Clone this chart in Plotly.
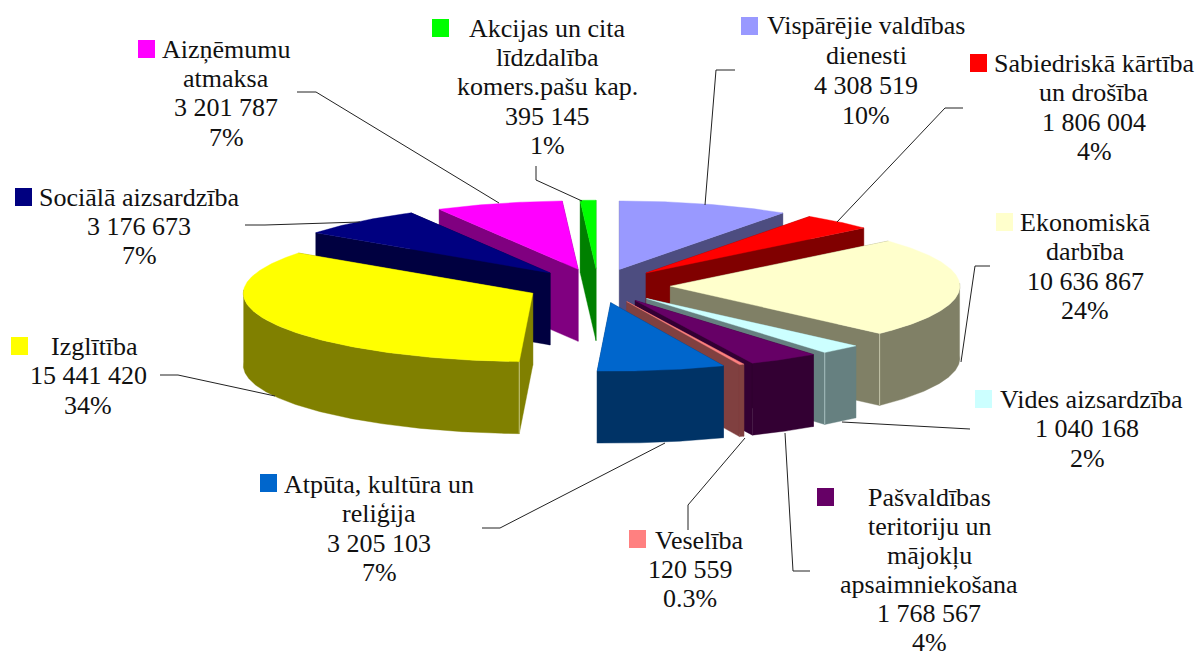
import math
import plotly.graph_objects as go

# ---------- data ----------
categories = ["Vispārējie valdības dienesti", "Sabiedriskā kārtība un drošība", "Ekonomiskā darbība",
              "Vides aizsardzība", "Pašvaldības teritoriju un mājokļu apsaimniekošana", "Veselība",
              "Atpūta, kultūra un reliģija", "Izglītība", "Sociālā aizsardzība", "Aizņēmumu atmaksa",
              "Akcijas un cita līdzdalība komers.pašu kap."]
values = [4308519, 1806004, 10636867, 1040168, 1768567, 120559, 3205103, 15441420, 3176673, 3201787, 395145]
percent_labels = ["10%", "4%", "24%", "2%", "4%", "0.3%", "7%", "34%", "7%", "7%", "1%"]
name_lines = [["Vispārējie valdības", "dienesti"], ["Sabiedriskā kārtība", "un drošība"], ["Ekonomiskā", "darbība"],
              ["Vides aizsardzība"], ["Pašvaldības", "teritoriju un", "mājokļu", "apsaimniekošana"], ["Veselība"],
              ["Atpūta, kultūra un", "reliģija"], ["Izglītība"], ["Sociālā aizsardzība"], ["Aizņēmumu", "atmaksa"],
              ["Akcijas un cita", "līdzdalība", "komers.pašu kap."]]

# ---------- style ----------
top_colors = ["#9999FF", "#FF0000", "#FFFFCC", "#CCFFFF", "#660066", "#FF8080", "#0066CC", "#FFFF00", "#000080", "#FF00FF", "#00FF00"]
side_colors = ["#4D4D80", "#800000", "#808066", "#668080", "#330033", "#804040", "#003366", "#808000", "#000040", "#800080", "#008000"]
seam_colors = {2: "#C4C4A8", 3: "#A8C0C0", 7: "#C8C880"}
FONT = "Liberation Serif"
FSIZE = 26

# ---------- pie projection ----------
CX, CY, RX, RY, DEPTH, EXPLODE = 598.0, 285.8, 289.5, 68.5, 72.0, 0.25
total = sum(values)


def proj(theta_deg, r, ox=0.0, oy=0.0, drop=0.0):
    t = math.radians(theta_deg)
    return CX + ox + RX * r * math.sin(t), CY + oy - RY * r * math.cos(t) + drop


fig = go.Figure()


def poly(pts, color):
    xs = [p[0] for p in pts] + [pts[0][0]]
    ys = [p[1] for p in pts] + [pts[0][1]]
    fig.add_trace(go.Scatter(x=xs, y=ys, mode="lines", fill="toself", fillcolor=color,
                             line=dict(color=color, width=0.4), hoverinfo="skip", showlegend=False))


slices = []
cum = 0.0
for i, v in enumerate(values):
    a0 = cum / total * 360
    cum += v
    a1 = cum / total * 360
    slices.append((i, a0, a1, (a0 + a1) / 2))

for i, a0, a1, m in sorted(slices, key=lambda s: math.cos(math.radians(s[3])), reverse=True):
    ox = RX * EXPLODE * math.sin(math.radians(m))
    oy = -RY * EXPLODE * math.cos(math.radians(m))
    n = max(4, int((a1 - a0) * 2))
    arc = [a0 + (a1 - a0) * k / n for k in range(n + 1)]
    apex = proj(0, 0, ox, oy)
    apex_d = proj(0, 0, ox, oy, DEPTH)
    # radial walls, the rearward one first
    for a in sorted([a0, a1], key=lambda q: -math.cos(math.radians(q))):
        c = proj(a, 1, ox, oy)
        cd = proj(a, 1, ox, oy, DEPTH)
        poly([apex, c, cd, apex_d], side_colors[i])
    # outer wall
    front = [a for a in arc if math.cos(math.radians(a)) < 0.05]
    if len(front) >= 2:
        poly([proj(a, 1, ox, oy) for a in front] + [proj(a, 1, ox, oy, DEPTH) for a in reversed(front)], side_colors[i])
    # corner seam
    if i in seam_colors:
        seam_angle = a0 if i == 7 else a1
        p, q = proj(seam_angle, 1, ox, oy), proj(seam_angle, 1, ox, oy, DEPTH)
        fig.add_trace(go.Scatter(x=[p[0], q[0]], y=[p[1], q[1]], mode="lines", line=dict(color=seam_colors[i], width=1),
                                 hoverinfo="skip", showlegend=False))
    # top face
    poly([apex] + [proj(a, 1, ox, oy) for a in arc], top_colors[i])

# ---------- labels (layout only) ----------
# category index: (text centre x, first line y, line step, key-square left, key-square top, first-line centre override)
label_layout = {
    0: (866, 25, 30, 741, 17, None),
    1: (1094, 63, 29.6, 970, 54, None),
    2: (1085, 222, 29.6, 996, 213, None),
    3: (1087, 399, 29.6, 975, 390, 1091),
    4: (929, 497, 29, 817, 488, None),
    5: (690, 540, 29.4, 629, 530, 699),
    6: (379, 484, 29.6, 260, 474, None),
    7: (88, 346, 29.6, 11, 337, 94),
    8: (139, 197, 29.4, 15, 188, None),
    9: (226, 49, 29.4, 138, 40, None),
    10: (547, 28, 29.4, 432, 19, None),
}
leaders = {
    0: ([735, 716, 705], [70, 70, 205]),
    1: ([963, 945, 837], [108, 108, 222]),
    2: ([990, 975, 961], [266, 266, 362]),
    3: ([970, 952, 842], [429, 428, 422]),
    4: ([810, 793, 785], [571, 571, 433]),
    5: ([688, 688, 745], [530, 505, 438]),
    6: ([482, 500, 665], [528, 528, 443]),
    7: ([160, 178, 275], [375, 375, 396]),
    8: ([245, 265, 360], [225, 225, 222]),
    9: ([297, 316, 499], [92, 92, 203]),
    10: ([536, 536, 582], [166, 180, 201]),
}

shapes = []
annotations = []
for i, (cx, y0, step, kx, ky, first_cx) in label_layout.items():
    lines = name_lines[i] + [f"{values[i]:,}".replace(",", " "), percent_labels[i]]
    for k, line in enumerate(lines):
        annotations.append(dict(x=(first_cx if (k == 0 and first_cx) else cx), y=y0 + k * step, text=line, showarrow=False,
                                xanchor="center", yanchor="middle", xref="x", yref="y",
                                font=dict(family=FONT, size=FSIZE, color="#111111")))
    shapes.append(dict(type="rect", xref="x", yref="y", x0=kx, x1=kx + 17, y0=ky, y1=ky + 18,
                       fillcolor=top_colors[i], line=dict(width=0), layer="above"))
    lx, ly = leaders[i]
    fig.add_trace(go.Scatter(x=lx, y=ly, mode="lines", line=dict(color="#222222", width=1),
                             hoverinfo="skip", showlegend=False))

fig.update_layout(
    width=1197, height=653, margin=dict(l=0, r=0, t=0, b=0),
    paper_bgcolor="white", plot_bgcolor="white", showlegend=False,
    shapes=shapes, annotations=annotations,
    xaxis=dict(range=[0, 1197], visible=False, fixedrange=True),
    yaxis=dict(range=[653, 0], visible=False, fixedrange=True),
)
fig.write_html("out.html", post_script="document.body.style.margin='0';document.body.style.overflow='hidden';",
               config={"displayModeBar": False})
